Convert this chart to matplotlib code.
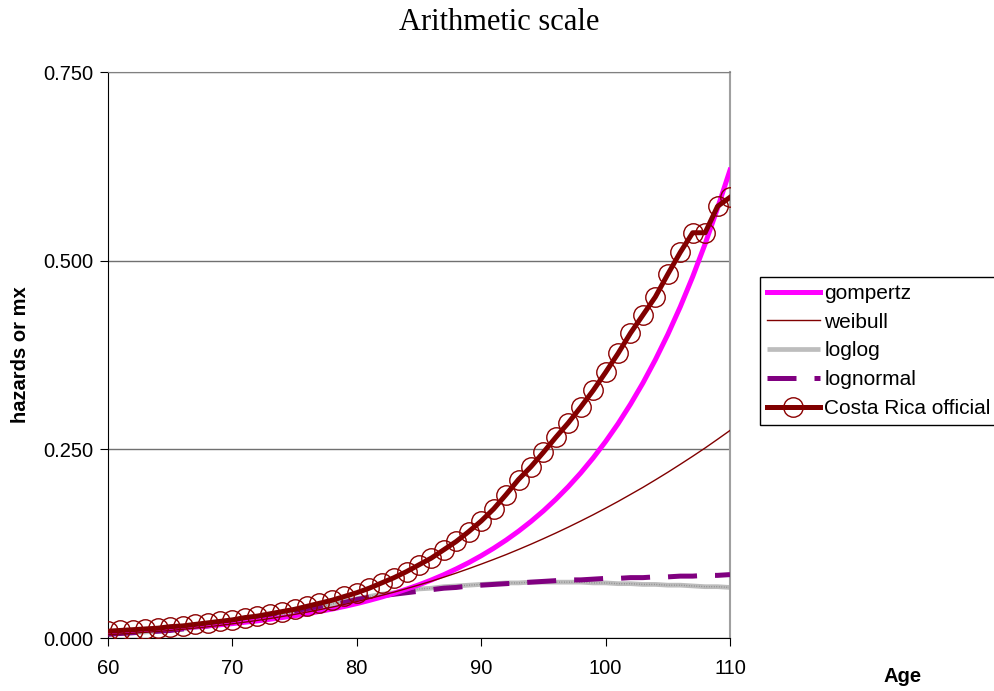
import matplotlib
matplotlib.use("Agg")
import matplotlib.pyplot as plt

ages = list(range(60, 111))

costa_rica = [0.009, 0.010, 0.011, 0.012, 0.013, 0.015, 0.016, 0.018, 0.020, 0.022,
              0.024, 0.027, 0.029, 0.032, 0.035, 0.038, 0.042, 0.046, 0.050, 0.055,
              0.060, 0.066, 0.073, 0.080, 0.088, 0.097, 0.106, 0.117, 0.128, 0.141,
              0.155, 0.171, 0.190, 0.210, 0.227, 0.246, 0.266, 0.285, 0.306, 0.328,
              0.352, 0.377, 0.404, 0.428, 0.452, 0.482, 0.511, 0.537, 0.537, 0.572,
              0.584]

gompertz = [0.0080, 0.0087, 0.0095, 0.0104, 0.0113, 0.0124, 0.0135, 0.0147, 0.0161, 0.0175,
            0.0191, 0.0209, 0.0227, 0.0248, 0.0271, 0.0295, 0.0322, 0.0352, 0.0383, 0.0418,
            0.0456, 0.0498, 0.0543, 0.0593, 0.0647, 0.0705, 0.0769, 0.0839, 0.0916, 0.0999,
            0.1090, 0.1189, 0.1297, 0.1415, 0.1544, 0.1684, 0.1838, 0.2005, 0.2187, 0.2386,
            0.2603, 0.2839, 0.3098, 0.3379, 0.3687, 0.4022, 0.4388, 0.4787, 0.5222, 0.5697,
            0.6200]

weibull = [0.0045, 0.0054, 0.0063, 0.0075, 0.0087, 0.0100, 0.0115, 0.0131, 0.0148, 0.0167,
           0.0188, 0.0210, 0.0233, 0.0258, 0.0285, 0.0313, 0.0343, 0.0375, 0.0409, 0.0445,
           0.0483, 0.0523, 0.0565, 0.0608, 0.0655, 0.0703, 0.0753, 0.0806, 0.0861, 0.0919,
           0.0979, 0.1041, 0.1105, 0.1173, 0.1243, 0.1316, 0.1391, 0.1469, 0.1550, 0.1633,
           0.1720, 0.1809, 0.1902, 0.1996, 0.2095, 0.2196, 0.2301, 0.2408, 0.2518, 0.2633,
           0.2750]

loglog = [0.005, 0.006, 0.007, 0.008, 0.009, 0.011, 0.012, 0.014, 0.016, 0.018,
          0.020, 0.023, 0.025, 0.028, 0.031, 0.034, 0.037, 0.041, 0.045, 0.049,
          0.052, 0.055, 0.058, 0.060, 0.063, 0.065, 0.066, 0.068, 0.069, 0.070,
          0.071, 0.072, 0.073, 0.073, 0.074, 0.074, 0.074, 0.074, 0.074, 0.073,
          0.073, 0.072, 0.072, 0.071, 0.071, 0.070, 0.070, 0.069, 0.068, 0.068,
          0.067]

lognormal = [0.005, 0.006, 0.007, 0.008, 0.009, 0.010, 0.012, 0.014, 0.016, 0.018,
             0.020, 0.022, 0.025, 0.028, 0.031, 0.034, 0.037, 0.040, 0.044, 0.047,
             0.051, 0.054, 0.056, 0.058, 0.060, 0.062, 0.064, 0.066, 0.067, 0.069,
             0.070, 0.071, 0.072, 0.073, 0.074, 0.075, 0.076, 0.077, 0.077, 0.078,
             0.079, 0.079, 0.080, 0.080, 0.081, 0.081, 0.082, 0.082, 0.083, 0.083,
             0.084]

x_ticks = [60, 70, 80, 90, 100, 110]
y_ticks = [0.0, 0.25, 0.5, 0.75]
y_tick_labels = ["0.000", "0.250", "0.500", "0.750"]

plt.rcParams['font.family'] = ['Liberation Sans', 'DejaVu Sans']

fig = plt.figure(figsize=(9.94, 6.91), dpi=100)
ax = fig.add_axes([108/994, 53/691, 622/994, 566/691])

ax.plot(ages, loglog, color='#bdbdbd', lw=3.4, label='loglog', zorder=2,
        solid_capstyle='butt')
ax.plot(ages, loglog, color='#8a8a8a', lw=1.0, dashes=(0.6, 1.2), zorder=2.1)
ax.plot(ages, lognormal, color='#800080', lw=3.6, dashes=(5.8, 3.6), label='lognormal',
        zorder=3, dash_capstyle='butt')
ax.plot(ages, gompertz, color='#ff00ff', lw=3.6, label='gompertz', zorder=4)
ax.plot(ages, weibull, color='#800000', lw=1.0, label='weibull', zorder=5)
ax.plot(ages, costa_rica, color='#800000', lw=3.6, marker='o', ms=14, mfc='none',
        mec='#8b0000', mew=1.0, label='Costa Rica official', zorder=6)

ax.set_xlim(60, 110)
ax.set_ylim(0, 0.75)
ax.set_xticks(x_ticks)
ax.set_yticks(y_ticks)
ax.set_yticklabels(y_tick_labels)
ax.tick_params(axis='both', labelsize=14.5, direction='out', color='black')
ax.tick_params(axis='x', length=5.8, pad=9)
ax.tick_params(axis='y', length=5.8, pad=5)
ax.grid(axis='y', color='#707070', lw=1.0, zorder=0)
ax.set_axisbelow(True)
ax.spines['left'].set_color('black')
ax.spines['bottom'].set_color('black')
ax.spines['top'].set_color('#808080')
ax.spines['right'].set_color('#a0a0a0')
ax.spines['right'].set_linewidth(1.5)

ax.set_ylabel('hazards or mx', fontsize=14.5, fontweight='bold', labelpad=0)
ax.yaxis.set_label_coords(-78/622, 0.5)
fig.text(903/994, 1 - 676/691, 'Age', fontsize=14.5, fontweight='bold',
         ha='center', va='center')
fig.text(499/994, 1 - 22/691, 'Arithmetic scale', fontsize=22,
         family=['Liberation Serif', 'DejaVu Serif'], ha='center', va='center')

handles, labels = ax.get_legend_handles_labels()
order = ['gompertz', 'weibull', 'loglog', 'lognormal', 'Costa Rica official']
hmap = dict(zip(labels, handles))
leg = fig.legend([hmap[k] for k in order], order, loc='upper left',
                 bbox_to_anchor=(760/994, 1 - 277/691), fontsize=15,
                 frameon=True, fancybox=False, edgecolor='black', framealpha=1,
                 borderpad=0.33, handlelength=2.55, handletextpad=0.2,
                 labelspacing=0.47, borderaxespad=0)
leg.get_frame().set_linewidth(1.0)

fig.savefig('out.png', dpi=100)
